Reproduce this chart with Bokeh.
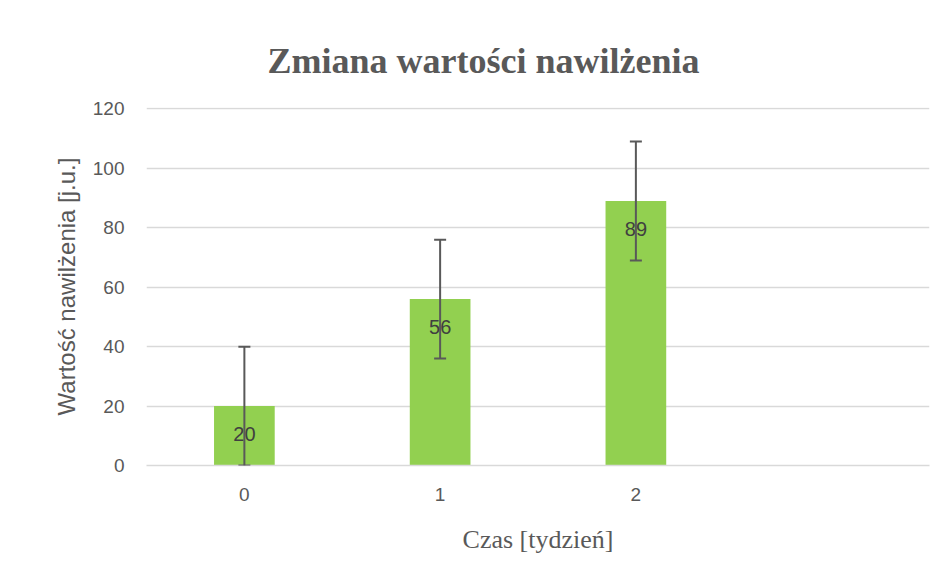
from bokeh.plotting import figure
from bokeh.models import Range1d, FixedTicker, Whisker, TeeHead, ColumnDataSource
from bokeh.core.properties import value
from bokeh.embed import file_html
from bokeh.resources import INLINE

# ---- data ----
categories = ["0", "1", "2"]
values = [20, 56, 89]
errors = [20, 20, 20]
y_ticks = [0, 20, 40, 60, 80, 100, 120]
title_text = "Zmiana wartości nawilżenia"
x_label = "Czas [tydzień]"
y_label = "Wartość nawilżenia [j.u.]"

xs = list(range(len(categories)))
src = ColumnDataSource(dict(
    x=xs,
    top=values,
    upper=[v + e for v, e in zip(values, errors)],
    lower=[v - e for v, e in zip(values, errors)],
    label=[str(v) for v in values],
))

GRAY = "#595959"
GRID = "#d9d9d9"
SANS = "Liberation Sans"
SERIF = "Liberation Serif"

p = figure(
    width=935, height=568,
    output_backend="svg", toolbar_location=None,
    x_range=Range1d(-0.5, len(categories) + 0.5),
    y_range=Range1d(y_ticks[0], y_ticks[-1] * 1.004),
    min_border_left=146, min_border_right=6,
    min_border_top=107, min_border_bottom=103,
)
p.background_fill_color = "white"
p.border_fill_color = "white"
p.outline_line_color = None

p.vbar(x="x", top="top", bottom=0, width=0.31, source=src,
       fill_color="#92d050", line_color=None)

whisker = Whisker(
    base="x", upper="upper", lower="lower", source=src,
    line_color=GRAY, line_width=2, level="overlay",
    upper_head=TeeHead(size=12, line_color=GRAY, line_width=2),
    lower_head=TeeHead(size=12, line_color=GRAY, line_width=2),
)
p.add_layout(whisker)

p.text(x="x", y="top", text="label", source=src,
       text_align="center", text_baseline="middle", y_offset=28,
       text_color="#404040", text_font_size="20px", text_font=value(SANS))

# title
p.title.text = title_text
p.title.align = "left"
p.title.offset = 121
p.title.standoff = 54
p.title.text_font = SERIF
p.title.text_font_style = "bold"
p.title.text_font_size = "36px"
p.title.text_color = GRAY

# axes
p.xaxis.ticker = FixedTicker(ticks=xs)
p.xaxis.major_label_overrides = {i: c for i, c in enumerate(categories)}
p.yaxis.ticker = FixedTicker(ticks=y_ticks)

for ax in (p.xaxis[0], p.yaxis[0]):
    ax.major_tick_line_color = None
    ax.minor_tick_line_color = None
    ax.major_tick_out = 0
    ax.major_tick_in = 0
    ax.major_label_text_font = SANS
    ax.major_label_text_font_size = "19px"
    ax.major_label_text_color = GRAY
    ax.axis_label_text_color = GRAY
    ax.axis_label_text_font_style = "normal"

p.xaxis.axis_line_color = GRID
p.xaxis.axis_line_width = 1.5
p.yaxis.axis_line_color = None
p.xaxis.major_label_standoff = 22
p.yaxis.major_label_standoff = 22

p.xaxis.axis_label = x_label
p.xaxis.axis_label_text_font = SERIF
p.xaxis.axis_label_text_font_size = "26px"
p.xaxis.axis_label_standoff = 21

p.yaxis.axis_label = y_label
p.yaxis.axis_label_text_font = SANS
p.yaxis.axis_label_text_font_size = "24px"
p.yaxis.axis_label_standoff = 10

p.xgrid.grid_line_color = None
p.ygrid.grid_line_color = GRID
p.ygrid.grid_line_width = 1.5

open("out.html", "w").write(file_html(p, INLINE))
